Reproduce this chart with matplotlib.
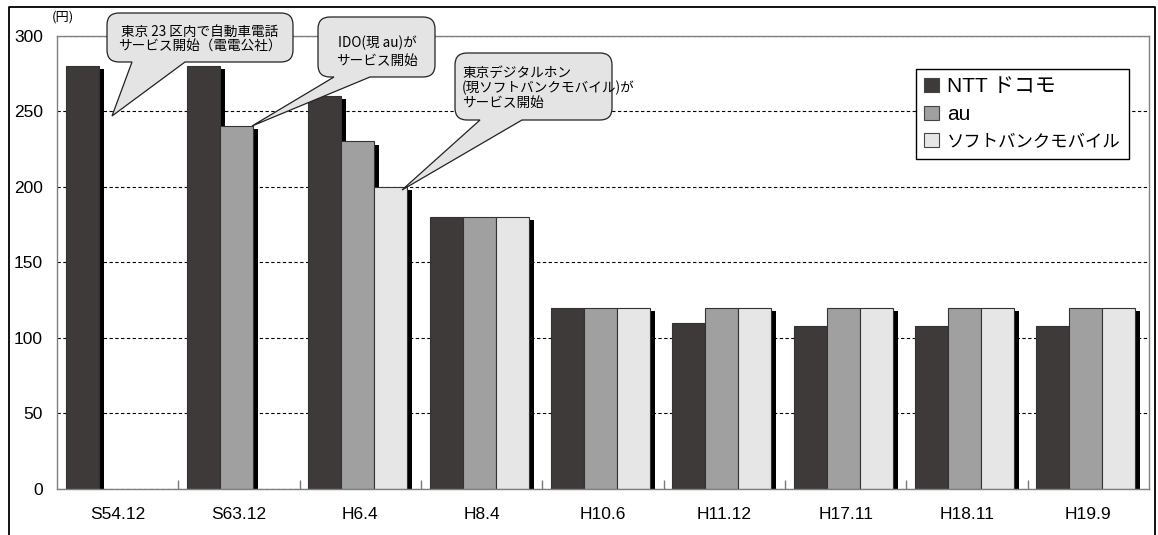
import numpy as np
import matplotlib
matplotlib.use('Agg')
import matplotlib.pyplot as plt
import matplotlib.patheffects as pe
from matplotlib.path import Path
from matplotlib.patches import PathPatch, Patch
from matplotlib.lines import Line2D
from matplotlib import transforms

categories = ['S54.12', 'S63.12', 'H6.4', 'H8.4', 'H10.6', 'H11.12', 'H17.11', 'H18.11', 'H19.9']
ntt = [280, 280, 260, 180, 120, 110, 108, 108, 108]
au = [np.nan, 240, 230, 180, 120, 120, 120, 120, 120]
softbank = [np.nan, np.nan, 200, 180, 120, 120, 120, 120, 120]
series_names = ['NTT ドコモ', 'au', 'ソフトバンクモバイル']
colors = ['#3e3a39', '#a0a0a0', '#e6e6e6']
yticks = [0, 50, 100, 150, 200, 250, 300]

W, H = 1158, 535
lat_jp = ['Liberation Sans', 'Noto Sans CJK JP', 'DejaVu Sans']
jp = ['Noto Sans CJK JP', 'DejaVu Sans']

fig = plt.figure(figsize=(W / 100, H / 100), dpi=100)
# pixel coords, y down from top
px = transforms.Affine2D().scale(1 / W, -1 / H).translate(0, 1) + fig.transFigure

ax = fig.add_axes([57 / W, (H - 489) / H, (1149 - 57) / W, (489 - 35.7) / H])

x = np.arange(len(categories))
w = 0.272
shadow = [pe.SimplePatchShadow(offset=(3.6, -2.2), shadow_rgbFace='black', alpha=1.0), pe.Normal()]
for i, vals in enumerate([ntt, au, softbank]):
    vals = np.array(vals, dtype=float)
    ok = ~np.isnan(vals)
    bars = ax.bar(x[ok] + (i - 1) * w - 0.02, vals[ok], width=w, color=colors[i],
                  edgecolor='#333333', linewidth=0.8, zorder=2)
    for b in bars:
        b.set_path_effects(shadow)

ax.set_xlim(-0.5, len(categories) - 0.5)
ax.set_ylim(0, 300)
ax.set_yticks(yticks)
ax.set_xticks(x)
ax.set_xticklabels(categories, family=lat_jp, fontsize=12.5)
ax.set_xticks(np.arange(0.5, len(categories) - 1, 1), minor=True)
ax.tick_params(axis='x', which='major', length=0, pad=13)
ax.tick_params(axis='x', which='minor', direction='in', length=6.5, color='#777777', width=1)
ax.tick_params(axis='y', length=0, pad=10, labelsize=12.5)
for t in ax.get_yticklabels():
    t.set_family(lat_jp)
for s in ax.spines.values():
    s.set_color('#808080')
    s.set_linewidth(1)
ax.yaxis.grid(True, color='black', linestyle=(0, (3, 2.2)), linewidth=0.8)
ax.set_axisbelow(True)

fig.text(63, 17, '(円)', transform=px, family=jp, fontsize=9.5, ha='center', va='center')

# legend
handles = [Patch(facecolor=c, edgecolor='#444444', linewidth=0.8) for c in colors]
leg = ax.legend(handles, series_names, loc='upper left', bbox_to_anchor=(916 / W, 1 - 69 / H),
                bbox_transform=fig.transFigure, borderaxespad=0, frameon=True, fancybox=False,
                edgecolor='black', framealpha=1, prop={'family': lat_jp, 'size': 15},
                handlelength=0.7, handleheight=0.7, handletextpad=0.4, labelspacing=0.42,
                borderpad=0.4)
leg.get_frame().set_linewidth(1)
leg.get_texts()[2].set_fontsize(12.5)


def bubble(x0, y0, x1, y1, r, bl, br, tip):
    verts = [(x0 + r, y0), (x1 - r, y0), (x1, y0), (x1, y0 + r), (x1, y1 - r), (x1, y1),
             (x1 - r, y1), (br, y1), tip, (bl, y1), (x0 + r, y1), (x0, y1), (x0, y1 - r),
             (x0, y0 + r), (x0, y0), (x0 + r, y0), (x0 + r, y0)]
    codes = [Path.MOVETO, Path.LINETO, Path.CURVE3, Path.CURVE3, Path.LINETO, Path.CURVE3,
             Path.CURVE3, Path.LINETO, Path.LINETO, Path.LINETO, Path.LINETO, Path.CURVE3,
             Path.CURVE3, Path.LINETO, Path.CURVE3, Path.CURVE3, Path.CLOSEPOLY]
    p = PathPatch(Path(verts, codes), facecolor='#e4e4e4', edgecolor='#222222',
                  linewidth=0.9, transform=px, zorder=5)
    fig.add_artist(p)


bubble(107, 13, 293, 62, 12, 132, 185, (112, 116))
fig.text(200, 32, '東京 23 区内で自動車電話', transform=px, family=jp, fontsize=9.8, ha='center', va='center', zorder=6)
fig.text(200, 47, 'サービス開始（電電公社）', transform=px, family=jp, fontsize=9.8, ha='center', va='center', zorder=6)

bubble(318, 17, 435, 77, 12, 334, 370, (252, 126))
fig.text(377, 43, 'IDO(現 au)が', transform=px, family=jp, fontsize=9.8, ha='center', va='center', zorder=6)
fig.text(377, 61, 'サービス開始', transform=px, family=jp, fontsize=9.8, ha='center', va='center', zorder=6)

bubble(455, 53, 612, 120, 12, 480, 522, (402, 190))
for k, line in enumerate(['東京デジタルホン', '(現ソフトバンクモバイル)が', 'サービス開始']):
    fig.text(462, 73 + 15 * k, line, transform=px, family=jp, fontsize=9.8, ha='left', va='center', zorder=6)

# outer frame
fig.add_artist(Line2D([9, 9, 1155, 1155], [540, 7, 7, 540], transform=px, color='black', linewidth=1.3))

fig.savefig('out.png', dpi=100)
